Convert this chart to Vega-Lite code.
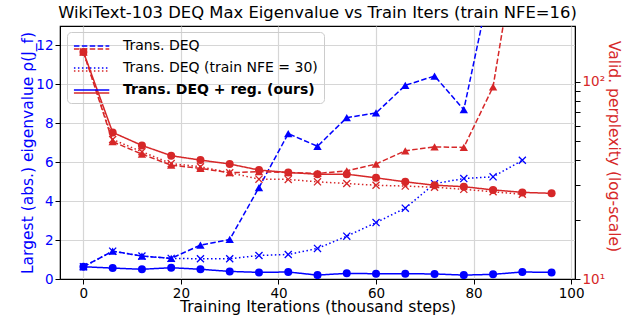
{
  "$schema": "https://vega.github.io/schema/vega-lite/v6.json",
  "width": 515,
  "height": 253,
  "autosize": {"type": "none"},
  "padding": {"left": 60, "top": 26, "right": 54, "bottom": 39},
  "title": {"text": "WikiText-103 DEQ Max Eigenvalue vs Train Iters (train NFE=16)", "fontSize": 16.4, "fontWeight": "normal", "font": "DejaVu Sans", "color": "black", "anchor": "middle", "offset": 5},
  "config": {
    "font": "DejaVu Sans",
    "view": {"stroke": "black", "strokeWidth": 1.2},
    "axis": {"labelFontSize": 13.5, "titleFontSize": 15.5, "titleFontWeight": "normal", "tickColor": "black", "domainColor": "black", "labelColor": "black", "titleColor": "black", "gridColor": "#d6d6d6", "gridWidth": 1.2, "tickSize": 5}
  },
  "datasets": {
    "eig": [
      {"step": 0, "series": "Trans. DEQ", "value": 0.63},
      {"step": 6, "series": "Trans. DEQ", "value": 1.43},
      {"step": 12, "series": "Trans. DEQ", "value": 1.18},
      {"step": 18, "series": "Trans. DEQ", "value": 1.06},
      {"step": 24, "series": "Trans. DEQ", "value": 1.74},
      {"step": 30, "series": "Trans. DEQ", "value": 2.03},
      {"step": 36, "series": "Trans. DEQ", "value": 4.7},
      {"step": 42, "series": "Trans. DEQ", "value": 7.47},
      {"step": 48, "series": "Trans. DEQ", "value": 6.82},
      {"step": 54, "series": "Trans. DEQ", "value": 8.29},
      {"step": 60, "series": "Trans. DEQ", "value": 8.53},
      {"step": 66, "series": "Trans. DEQ", "value": 9.95},
      {"step": 72, "series": "Trans. DEQ", "value": 10.43},
      {"step": 78, "series": "Trans. DEQ", "value": 8.7},
      {"step": 84, "series": "Trans. DEQ", "value": 15.8},
      {"step": 0, "series": "Trans. DEQ (train NFE = 30)", "value": 0.63},
      {"step": 6, "series": "Trans. DEQ (train NFE = 30)", "value": 1.43},
      {"step": 12, "series": "Trans. DEQ (train NFE = 30)", "value": 1.18},
      {"step": 18, "series": "Trans. DEQ (train NFE = 30)", "value": 1.06},
      {"step": 24, "series": "Trans. DEQ (train NFE = 30)", "value": 1.04},
      {"step": 30, "series": "Trans. DEQ (train NFE = 30)", "value": 1.04},
      {"step": 36, "series": "Trans. DEQ (train NFE = 30)", "value": 1.21},
      {"step": 42, "series": "Trans. DEQ (train NFE = 30)", "value": 1.26},
      {"step": 48, "series": "Trans. DEQ (train NFE = 30)", "value": 1.57},
      {"step": 54, "series": "Trans. DEQ (train NFE = 30)", "value": 2.2},
      {"step": 60, "series": "Trans. DEQ (train NFE = 30)", "value": 2.9},
      {"step": 66, "series": "Trans. DEQ (train NFE = 30)", "value": 3.64},
      {"step": 72, "series": "Trans. DEQ (train NFE = 30)", "value": 4.9},
      {"step": 78, "series": "Trans. DEQ (train NFE = 30)", "value": 5.16},
      {"step": 84, "series": "Trans. DEQ (train NFE = 30)", "value": 5.25},
      {"step": 90, "series": "Trans. DEQ (train NFE = 30)", "value": 6.1},
      {"step": 0, "series": "Trans. DEQ + reg. (ours)", "value": 0.63},
      {"step": 6, "series": "Trans. DEQ + reg. (ours)", "value": 0.56},
      {"step": 12, "series": "Trans. DEQ + reg. (ours)", "value": 0.5},
      {"step": 18, "series": "Trans. DEQ + reg. (ours)", "value": 0.58},
      {"step": 24, "series": "Trans. DEQ + reg. (ours)", "value": 0.5},
      {"step": 30, "series": "Trans. DEQ + reg. (ours)", "value": 0.39},
      {"step": 36, "series": "Trans. DEQ + reg. (ours)", "value": 0.34},
      {"step": 42, "series": "Trans. DEQ + reg. (ours)", "value": 0.36},
      {"step": 48, "series": "Trans. DEQ + reg. (ours)", "value": 0.2},
      {"step": 54, "series": "Trans. DEQ + reg. (ours)", "value": 0.29},
      {"step": 60, "series": "Trans. DEQ + reg. (ours)", "value": 0.27},
      {"step": 66, "series": "Trans. DEQ + reg. (ours)", "value": 0.27},
      {"step": 72, "series": "Trans. DEQ + reg. (ours)", "value": 0.26},
      {"step": 78, "series": "Trans. DEQ + reg. (ours)", "value": 0.2},
      {"step": 84, "series": "Trans. DEQ + reg. (ours)", "value": 0.24},
      {"step": 90, "series": "Trans. DEQ + reg. (ours)", "value": 0.36},
      {"step": 96, "series": "Trans. DEQ + reg. (ours)", "value": 0.34}
    ],
    "ppl": [
      {"step": 0, "series": "Trans. DEQ", "value": 141.9},
      {"step": 6, "series": "Trans. DEQ", "value": 49.7},
      {"step": 12, "series": "Trans. DEQ", "value": 43.0},
      {"step": 18, "series": "Trans. DEQ", "value": 37.8},
      {"step": 24, "series": "Trans. DEQ", "value": 36.4},
      {"step": 30, "series": "Trans. DEQ", "value": 34.6},
      {"step": 36, "series": "Trans. DEQ", "value": 35.0},
      {"step": 42, "series": "Trans. DEQ", "value": 34.7},
      {"step": 48, "series": "Trans. DEQ", "value": 34.3},
      {"step": 54, "series": "Trans. DEQ", "value": 35.4},
      {"step": 60, "series": "Trans. DEQ", "value": 38.3},
      {"step": 66, "series": "Trans. DEQ", "value": 44.7},
      {"step": 72, "series": "Trans. DEQ", "value": 46.8},
      {"step": 78, "series": "Trans. DEQ", "value": 46.5},
      {"step": 84, "series": "Trans. DEQ", "value": 94.3},
      {"step": 90, "series": "Trans. DEQ", "value": 750},
      {"step": 0, "series": "Trans. DEQ (train NFE = 30)", "value": 141.9},
      {"step": 6, "series": "Trans. DEQ (train NFE = 30)", "value": 51.0},
      {"step": 12, "series": "Trans. DEQ (train NFE = 30)", "value": 44.2},
      {"step": 18, "series": "Trans. DEQ (train NFE = 30)", "value": 38.5},
      {"step": 24, "series": "Trans. DEQ (train NFE = 30)", "value": 37.1},
      {"step": 30, "series": "Trans. DEQ (train NFE = 30)", "value": 34.6},
      {"step": 36, "series": "Trans. DEQ (train NFE = 30)", "value": 32.1},
      {"step": 42, "series": "Trans. DEQ (train NFE = 30)", "value": 32.0},
      {"step": 48, "series": "Trans. DEQ (train NFE = 30)", "value": 31.1},
      {"step": 54, "series": "Trans. DEQ (train NFE = 30)", "value": 30.5},
      {"step": 60, "series": "Trans. DEQ (train NFE = 30)", "value": 29.9},
      {"step": 66, "series": "Trans. DEQ (train NFE = 30)", "value": 29.6},
      {"step": 72, "series": "Trans. DEQ (train NFE = 30)", "value": 29.2},
      {"step": 78, "series": "Trans. DEQ (train NFE = 30)", "value": 28.5},
      {"step": 84, "series": "Trans. DEQ (train NFE = 30)", "value": 27.7},
      {"step": 90, "series": "Trans. DEQ (train NFE = 30)", "value": 26.9},
      {"step": 0, "series": "Trans. DEQ + reg. (ours)", "value": 141.9},
      {"step": 6, "series": "Trans. DEQ + reg. (ours)", "value": 55.4},
      {"step": 12, "series": "Trans. DEQ + reg. (ours)", "value": 47.6},
      {"step": 18, "series": "Trans. DEQ + reg. (ours)", "value": 42.2},
      {"step": 24, "series": "Trans. DEQ + reg. (ours)", "value": 40.1},
      {"step": 30, "series": "Trans. DEQ + reg. (ours)", "value": 38.3},
      {"step": 36, "series": "Trans. DEQ + reg. (ours)", "value": 35.7},
      {"step": 42, "series": "Trans. DEQ + reg. (ours)", "value": 34.7},
      {"step": 48, "series": "Trans. DEQ + reg. (ours)", "value": 34.0},
      {"step": 54, "series": "Trans. DEQ + reg. (ours)", "value": 34.0},
      {"step": 60, "series": "Trans. DEQ + reg. (ours)", "value": 32.6},
      {"step": 66, "series": "Trans. DEQ + reg. (ours)", "value": 31.1},
      {"step": 72, "series": "Trans. DEQ + reg. (ours)", "value": 29.9},
      {"step": 78, "series": "Trans. DEQ + reg. (ours)", "value": 29.4},
      {"step": 84, "series": "Trans. DEQ + reg. (ours)", "value": 28.3},
      {"step": 90, "series": "Trans. DEQ + reg. (ours)", "value": 27.5},
      {"step": 96, "series": "Trans. DEQ + reg. (ours)", "value": 27.2}
    ]
  },
  "encoding": {
    "x": {"field": "step", "type": "quantitative", "scale": {"domain": [-4.8, 100.8], "nice": false, "zero": false},
      "axis": {"values": [0, 20, 40, 60, 80, 100], "title": "Training Iterations (thousand steps)", "titlePadding": 0, "labelPadding": 2}}
  },
  "layer": [
    {
      "data": {"name": "eig"},
      "encoding": {
        "y": {"field": "value", "type": "quantitative", "scale": {"domain": [0, 13], "nice": false},
          "axis": {"orient": "left", "values": [0, 2, 4, 6, 8, 10, 12], "labelColor": "blue", "titleColor": "blue", "title": "Largest (abs.) eigenvalue ρ(J_f)", "titlePadding": 0}}
      },
      "layer": [
        {
          "mark": {"type": "line", "color": "blue", "strokeWidth": 1.5, "clip": true},
          "encoding": {
            "strokeDash": {"field": "series", "type": "nominal",
              "scale": {"domain": ["Trans. DEQ", "Trans. DEQ (train NFE = 30)", "Trans. DEQ + reg. (ours)"], "range": [[5.5, 2.4], [1.5, 2.5], [1, 0]]},
              "legend": {"orient": "none", "legendX": 7, "legendY": 6, "title": null, "symbolType": "M-1,0H4", "symbolStrokeColor": "blue", "symbolStrokeWidth": 1.6, "symbolSize": 200, "labelFontSize": 14, "labelFont": "DejaVu Sans", "labelColor": "black", "labelLimit": 400, "labelOffset": 34, "fillColor": "rgba(255,255,255,0)", "strokeColor": "#cccccc", "padding": 6, "cornerRadius": 4, "rowPadding": 7,
                "encode": {"labels": {"update": {"fontWeight": {"signal": "datum.label == 'Trans. DEQ + reg. (ours)' ? 'bold' : 'normal'"}}}}}
            }
          }
        },
        {
          "transform": [{"filter": {"field": "series", "equal": "Trans. DEQ"}}],
          "mark": {"type": "point", "shape": "triangle-up", "filled": true, "color": "blue", "opacity": 1, "size": 70, "clip": true},
          "encoding": {}
        },
        {
          "transform": [{"filter": {"field": "series", "equal": "Trans. DEQ (train NFE = 30)"}}],
          "mark": {"type": "point", "shape": "M-1,-1L1,1M-1,1L1,-1", "filled": false, "color": "blue", "strokeWidth": 1.3, "opacity": 1, "size": 50, "clip": true},
          "encoding": {}
        },
        {
          "transform": [{"filter": {"field": "series", "equal": "Trans. DEQ + reg. (ours)"}}],
          "mark": {"type": "point", "shape": "circle", "filled": true, "color": "blue", "opacity": 1, "size": 64, "clip": true},
          "encoding": {}
        }
      ]
    },
    {
      "data": {"name": "ppl"},
      "encoding": {
        "y": {"field": "value", "type": "quantitative", "scale": {"type": "log", "domain": [10, 192], "nice": false},
          "axis": {"orient": "right", "values": [10, 20, 30, 40, 50, 60, 70, 80, 90, 100], "labelExpr": "datum.value == 10 ? '10¹' : (datum.value == 100 ? '10²' : '')", "labelColor": "#d62728", "titleColor": "#d62728", "title": "Valid. perplexity (log-scale)", "grid": false, "titlePadding": 1, "titleY": 120,
            "encode": {"ticks": {"update": {"x2": {"signal": "(datum.value == 10 || datum.value == 100) ? 5 : 2.5"}}}}}
        }
      },
      "layer": [
        {
          "mark": {"type": "line", "color": "#d62728", "strokeWidth": 1.5, "clip": true},
          "encoding": {
            "strokeDash": {"field": "series", "type": "nominal",
              "scale": {"domain": ["Trans. DEQ", "Trans. DEQ (train NFE = 30)", "Trans. DEQ + reg. (ours)"], "range": [[5.5, 2.4], [1.5, 2.5], [1, 0]]},
              "legend": {"orient": "none", "legendX": 7, "legendY": 9, "title": null, "symbolType": "M-1,0H4", "symbolStrokeColor": "#d62728", "symbolStrokeWidth": 1.6, "symbolSize": 200, "labelFontSize": 14, "labelFont": "DejaVu Sans", "labelOpacity": 0, "labelLimit": 400, "labelOffset": 34, "padding": 6, "rowPadding": 7,
                "encode": {"labels": {"update": {"fontWeight": {"signal": "datum.label == 'Trans. DEQ + reg. (ours)' ? 'bold' : 'normal'"}}}}}
            }
          }
        },
        {
          "transform": [{"filter": {"field": "series", "equal": "Trans. DEQ"}}],
          "mark": {"type": "point", "shape": "triangle-up", "filled": true, "color": "#d62728", "opacity": 1, "size": 70, "clip": true},
          "encoding": {}
        },
        {
          "transform": [{"filter": {"field": "series", "equal": "Trans. DEQ (train NFE = 30)"}}],
          "mark": {"type": "point", "shape": "M-1,-1L1,1M-1,1L1,-1", "filled": false, "color": "#d62728", "strokeWidth": 1.3, "opacity": 1, "size": 50, "clip": true},
          "encoding": {}
        },
        {
          "transform": [{"filter": {"field": "series", "equal": "Trans. DEQ + reg. (ours)"}}],
          "mark": {"type": "point", "shape": "circle", "filled": true, "color": "#d62728", "opacity": 1, "size": 64, "clip": true},
          "encoding": {}
        }
      ]
    }
  ],
  "resolve": {"scale": {"y": "independent", "strokeDash": "independent"}, "legend": {"strokeDash": "independent"}}
}
